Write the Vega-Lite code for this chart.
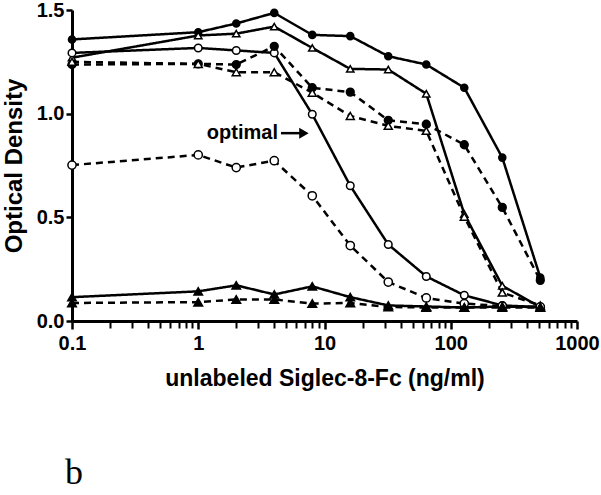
{
  "$schema": "https://vega.github.io/schema/vega-lite/v6.json",
  "width": 505,
  "height": 311,
  "autosize": {"type": "none"},
  "padding": {"left": 72, "top": 10, "right": 24, "bottom": 174},
  "background": "white",
  "config": {
    "view": {"stroke": null},
    "font": "Liberation Sans",
    "axis": {"grid": false, "domainColor": "black", "tickColor": "black", "labelColor": "black", "titleColor": "black"}
  },
  "datasets": {
    "curves": [
      {"s": "A", "x": 0.1, "y": 1.358}, {"s": "A", "x": 1, "y": 1.393}, {"s": "A", "x": 2, "y": 1.435}, {"s": "A", "x": 4, "y": 1.486}, {"s": "A", "x": 8, "y": 1.38}, {"s": "A", "x": 16, "y": 1.374}, {"s": "A", "x": 32, "y": 1.277}, {"s": "A", "x": 64, "y": 1.237}, {"s": "A", "x": 128, "y": 1.125}, {"s": "A", "x": 256, "y": 0.788}, {"s": "A", "x": 512, "y": 0.21},
      {"s": "B", "x": 0.1, "y": 1.27}, {"s": "B", "x": 1, "y": 1.377}, {"s": "B", "x": 2, "y": 1.386}, {"s": "B", "x": 4, "y": 1.42}, {"s": "B", "x": 8, "y": 1.317}, {"s": "B", "x": 16, "y": 1.216}, {"s": "B", "x": 32, "y": 1.213}, {"s": "B", "x": 64, "y": 1.096}, {"s": "B", "x": 128, "y": 0.516}, {"s": "B", "x": 256, "y": 0.17}, {"s": "B", "x": 512, "y": 0.067},
      {"s": "C", "x": 0.1, "y": 1.293}, {"s": "C", "x": 1, "y": 1.317}, {"s": "C", "x": 2, "y": 1.305}, {"s": "C", "x": 4, "y": 1.293}, {"s": "C", "x": 8, "y": 0.997}, {"s": "C", "x": 16, "y": 0.652}, {"s": "C", "x": 32, "y": 0.369}, {"s": "C", "x": 64, "y": 0.215}, {"s": "C", "x": 128, "y": 0.124}, {"s": "C", "x": 256, "y": 0.075}, {"s": "C", "x": 512, "y": 0.067},
      {"s": "D", "x": 0.1, "y": 1.237}, {"s": "D", "x": 1, "y": 1.24}, {"s": "D", "x": 2, "y": 1.237}, {"s": "D", "x": 4, "y": 1.325}, {"s": "D", "x": 8, "y": 1.125}, {"s": "D", "x": 16, "y": 1.104}, {"s": "D", "x": 32, "y": 0.968}, {"s": "D", "x": 64, "y": 0.949}, {"s": "D", "x": 128, "y": 0.85}, {"s": "D", "x": 256, "y": 0.548}, {"s": "D", "x": 512, "y": 0.196},
      {"s": "E", "x": 0.1, "y": 1.25}, {"s": "E", "x": 1, "y": 1.24}, {"s": "E", "x": 2, "y": 1.2}, {"s": "E", "x": 4, "y": 1.2}, {"s": "E", "x": 8, "y": 1.101}, {"s": "E", "x": 16, "y": 0.989}, {"s": "E", "x": 32, "y": 0.941}, {"s": "E", "x": 64, "y": 0.917}, {"s": "E", "x": 128, "y": 0.503}, {"s": "E", "x": 256, "y": 0.137}, {"s": "E", "x": 512, "y": 0.075},
      {"s": "F", "x": 0.1, "y": 0.752}, {"s": "F", "x": 1, "y": 0.801}, {"s": "F", "x": 2, "y": 0.74}, {"s": "F", "x": 4, "y": 0.773}, {"s": "F", "x": 8, "y": 0.604}, {"s": "F", "x": 16, "y": 0.364}, {"s": "F", "x": 32, "y": 0.188}, {"s": "F", "x": 64, "y": 0.111}, {"s": "F", "x": 128, "y": 0.084}, {"s": "F", "x": 256, "y": 0.072}, {"s": "F", "x": 512, "y": 0.068},
      {"s": "G", "x": 0.1, "y": 0.115}, {"s": "G", "x": 1, "y": 0.143}, {"s": "G", "x": 2, "y": 0.172}, {"s": "G", "x": 4, "y": 0.128}, {"s": "G", "x": 8, "y": 0.167}, {"s": "G", "x": 16, "y": 0.115}, {"s": "G", "x": 32, "y": 0.075}, {"s": "G", "x": 64, "y": 0.07}, {"s": "G", "x": 128, "y": 0.065}, {"s": "G", "x": 256, "y": 0.07}, {"s": "G", "x": 512, "y": 0.067},
      {"s": "H", "x": 0.1, "y": 0.087}, {"s": "H", "x": 1, "y": 0.091}, {"s": "H", "x": 2, "y": 0.104}, {"s": "H", "x": 4, "y": 0.104}, {"s": "H", "x": 8, "y": 0.084}, {"s": "H", "x": 16, "y": 0.087}, {"s": "H", "x": 32, "y": 0.068}, {"s": "H", "x": 64, "y": 0.065}, {"s": "H", "x": 128, "y": 0.065}, {"s": "H", "x": 256, "y": 0.065}, {"s": "H", "x": 512, "y": 0.065}
    ]
  },
  "resolve": {"axis": {"x": "independent"}},
  "layer": [
    {
      "data": {"name": "curves"},
      "mark": {"type": "line", "color": "black", "strokeWidth": 2.5},
      "encoding": {
        "x": {
          "field": "x", "type": "quantitative",
          "scale": {"type": "log", "domain": [0.1, 1000], "nice": false},
          "axis": {
            "orient": "bottom",
            "values": [0.1, 1, 10, 100, 1000],
            "format": "~g",
            "tickSize": 8, "tickWidth": 2.5, "domainWidth": 3,
            "labelFontSize": 20, "labelFontWeight": "bold", "labelPadding": 4,
            "labelFlush": false, "labelOverlap": false, "labelBound": false,
            "title": "unlabeled Siglec-8-Fc (ng/ml)",
            "titleFontSize": 23, "titleFontWeight": "bold", "titlePadding": 14
          }
        },
        "y": {
          "field": "y", "type": "quantitative",
          "scale": {"domain": [0, 1.5], "nice": false},
          "axis": {
            "values": [0, 0.5, 1, 1.5],
            "format": ".1f",
            "tickSize": 6, "tickWidth": 2.5, "domainWidth": 3,
            "labelFontSize": 20, "labelFontWeight": "bold", "labelPadding": 2,
            "labelOverlap": false, "labelBound": false, "labelFlush": false,
            "title": "Optical Density",
            "titleFontSize": 24, "titleFontWeight": "bold", "titlePadding": 10
          }
        },
        "detail": {"field": "s"},
        "strokeDash": {
          "field": "s", "type": "nominal",
          "scale": {"domain": ["A", "B", "C", "D", "E", "F", "G", "H"], "range": [[1, 0], [1, 0], [1, 0], [7, 5], [7, 5], [7, 5], [1, 0], [7, 5]]},
          "legend": null
        }
      }
    },
    {
      "data": {"name": "curves"},
      "mark": {"type": "point", "filled": true, "stroke": "black", "strokeWidth": 1.5, "opacity": 1},
      "encoding": {
        "x": {
          "field": "x", "type": "quantitative",
          "scale": {"type": "log", "domain": [0.1, 1000], "nice": false},
          "axis": {
            "orient": "bottom",
            "values": [0.2, 0.3, 0.4, 0.5, 0.6, 0.7, 0.8, 0.9, 2, 3, 4, 5, 6, 7, 8, 9, 20, 30, 40, 50, 60, 70, 80, 90, 200, 300, 400, 500, 600, 700, 800, 900],
            "labels": false, "domain": false, "tickSize": 7, "tickWidth": 2, "title": null
          }
        },
        "y": {"field": "y", "type": "quantitative"},
        "shape": {
          "field": "s", "type": "nominal",
          "scale": {"domain": ["A", "B", "C", "D", "E", "F", "G", "H"], "range": ["circle", "triangle-up", "circle", "circle", "triangle-up", "circle", "triangle-up", "triangle-up"]},
          "legend": null
        },
        "fill": {
          "field": "s", "type": "nominal",
          "scale": {"domain": ["A", "B", "C", "D", "E", "F", "G", "H"], "range": ["black", "white", "white", "black", "white", "white", "black", "black"]},
          "legend": null
        },
        "size": {
          "field": "s", "type": "nominal",
          "scale": {"domain": ["A", "B", "C", "D", "E", "F", "G", "H"], "range": [50, 75, 80, 50, 75, 80, 60, 60]},
          "legend": null
        }
      }
    },
    {
      "data": {"values": [{"x": 4.28, "y": 0.906, "t": "optimal"}]},
      "mark": {"type": "text", "align": "right", "baseline": "middle", "fontSize": 20, "fontWeight": "bold", "color": "black"},
      "encoding": {
        "x": {"field": "x", "type": "quantitative", "axis": null},
        "y": {"field": "y", "type": "quantitative"},
        "text": {"field": "t"}
      }
    },
    {
      "data": {"values": [{"x": 4.52, "x2": 6.9, "y": 0.906}]},
      "mark": {"type": "rule", "color": "black", "strokeWidth": 2.5},
      "encoding": {
        "x": {"field": "x", "type": "quantitative", "axis": null},
        "x2": {"field": "x2"},
        "y": {"field": "y", "type": "quantitative"}
      }
    },
    {
      "data": {"values": [{"x": 6.87, "y": 0.906}]},
      "mark": {"type": "point", "shape": "triangle-right", "filled": true, "color": "black", "size": 120, "opacity": 1},
      "encoding": {
        "x": {"field": "x", "type": "quantitative", "axis": null},
        "y": {"field": "y", "type": "quantitative"}
      }
    },
    {
      "data": {"values": [{"x": 0.088, "y": -0.785, "t": "b"}]},
      "mark": {"type": "text", "align": "left", "baseline": "alphabetic", "font": "Liberation Serif", "fontSize": 36, "color": "black"},
      "encoding": {
        "x": {"field": "x", "type": "quantitative", "axis": null},
        "y": {"field": "y", "type": "quantitative"},
        "text": {"field": "t"}
      }
    }
  ]
}
